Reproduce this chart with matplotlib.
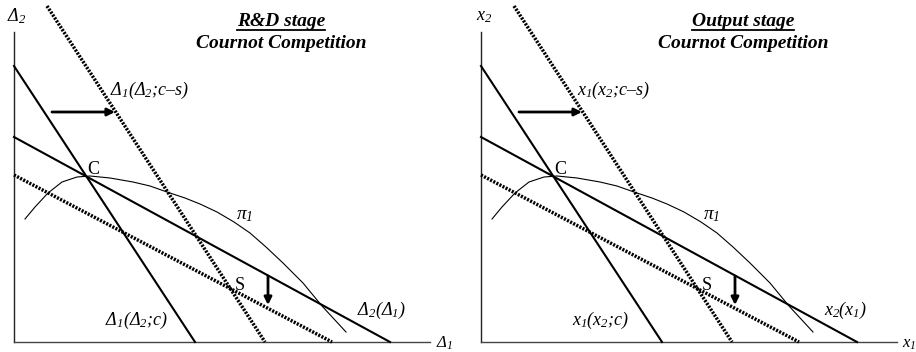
import numpy as np
import matplotlib
matplotlib.use('Agg')
import matplotlib.pyplot as plt

# fonts: Times-like serif, all math italic
plt.rcParams['font.family'] = 'Liberation Serif'
plt.rcParams['mathtext.fontset'] = 'custom'
plt.rcParams['mathtext.rm'] = 'Liberation Serif:italic'
plt.rcParams['mathtext.it'] = 'Liberation Serif:italic'
plt.rcParams['mathtext.bf'] = 'Liberation Serif:bold:italic'

# axis extents (units of the drawing, origin at the corner)
x_axis_len = 41.6
y_axis_len = 31.0

# reaction functions, given as (x0, y0, x1, y1) end points
br1_c = [0.0, 27.6, 18.1, 0.0]          # firm 1, cost c (solid)
br2 = [0.0, 20.5, 37.6, 0.0]            # firm 2 (solid)
br1_cs = [3.3, 33.6, 25.1, 0.0]         # firm 1, cost c-s (dotted)
br2_new = [0.0, 16.7, 31.8, 0.0]        # firm 2 shifted down (dotted)

# isoprofit curve pi_1
pi_x = [1.1, 2.1, 3.4, 4.8, 6.3, 7.6, 9.6, 11.9, 13.6, 15.3, 17.1, 18.6, 20.3,
        22.0, 23.6, 25.2, 26.9, 28.9, 30.8, 33.2]
pi_y = [12.3, 13.5, 14.9, 16.0, 16.5, 16.6, 16.4, 16.0, 15.6, 15.0, 14.4, 13.8, 13.0,
        12.0, 10.9, 9.5, 7.9, 5.9, 3.6, 1.0]

# shift arrows (start, end)
arrow_h = [(3.8, 23.0), (10.1, 23.0)]
arrow_v = [(25.4, 6.6), (25.4, 3.7)]

panels = [
    {'title': 'R&D stage', 'title_x': 26.7, 'xlabel': r'$\Delta_1$', 'ylabel': r'$\Delta_2$',
     'lab_cs': r'$\Delta_1$($\Delta_2$;c–s)', 'lab_c': r'$\Delta_1$($\Delta_2$;c)',
     'lab_2': r'$\Delta_2$($\Delta_1$)', 'xlim': (-1.4, 44.4), 'xlab_x': 42.2},
    {'title': 'Output stage', 'title_x': 26.2, 'xlabel': r'$x_1$', 'ylabel': r'$x_2$',
     'lab_cs': r'$x_1$($x_2$;c–s)', 'lab_c': r'$x_1$($x_2$;c)',
     'lab_2': r'$x_2$($x_1$)', 'xlim': (-2.3, 43.5), 'xlab_x': 42.1},
]

fig = plt.figure(figsize=(9.16, 3.52), dpi=100)
titles = []
for i, p in enumerate(panels):
    ax = fig.add_axes([0.5 * i, 0, 0.5, 1])
    ax.set_xlim(p['xlim'])
    ax.set_ylim(-1.0, 34.2)
    ax.axis('off')

    # axes
    ax.plot([0, 0], [0, y_axis_len], color='#222222', lw=1.0)
    ax.plot([0, x_axis_len], [0, 0], color='#444444', lw=1.0)

    # solid reaction functions
    for ln in [br1_c, br2]:
        ax.plot([ln[0], ln[2]], [ln[1], ln[3]], color='black', lw=1.5)
    # dotted reaction functions
    for ln in [br1_cs, br2_new]:
        ax.plot([ln[0], ln[2]], [ln[1], ln[3]], color='black', lw=2.5,
                linestyle=(0, (0.6, 0.4)), clip_on=False)

    ax.plot(pi_x, pi_y, color='black', lw=0.8)

    for a in [arrow_h, arrow_v]:
        ax.annotate('', xy=a[1], xytext=a[0],
                    arrowprops=dict(arrowstyle='-|>', color='black', lw=2.0,
                                    mutation_scale=11, shrinkA=0, shrinkB=0))

    fs = 13
    ax.text(0.3, 32.6, p['ylabel'], fontsize=fs, ha='center', va='center')
    ax.text(p['xlab_x'], -0.95, p['xlabel'], fontsize=12, ha='left', va='bottom')
    ax.text(9.6, 25.2, p['lab_cs'], fontsize=fs, style='italic', ha='left', va='center')
    ax.text(9.1, 2.2, p['lab_c'], fontsize=fs, style='italic', ha='left', va='center')
    ax.text(34.3, 3.2, p['lab_2'], fontsize=fs, style='italic', ha='left', va='center')
    ax.text(23.1, 12.6, r'$\pi_1$', fontsize=14, ha='center', va='center')
    ax.text(7.9, 17.2, 'C', fontsize=fs, ha='center', va='center')
    ax.text(22.6, 5.7, 'S', fontsize=fs, ha='center', va='center')

    t = ax.text(p['title_x'], 32.0, p['title'], fontsize=14, fontweight='bold',
                style='italic', ha='center', va='center')
    ax.text(p['title_x'], 29.8, 'Cournot Competition', fontsize=14, fontweight='bold',
            style='italic', ha='center', va='center')
    titles.append((ax, t))

# underline the stage titles
fig.canvas.draw()
r = fig.canvas.get_renderer()
for ax, t in titles:
    bb = t.get_window_extent(renderer=r).transformed(ax.transData.inverted())
    ax.plot([bb.x0, bb.x1], [bb.y0 + 0.05, bb.y0 + 0.05], color='black', lw=1.3)

fig.savefig('out.png', dpi=100)
